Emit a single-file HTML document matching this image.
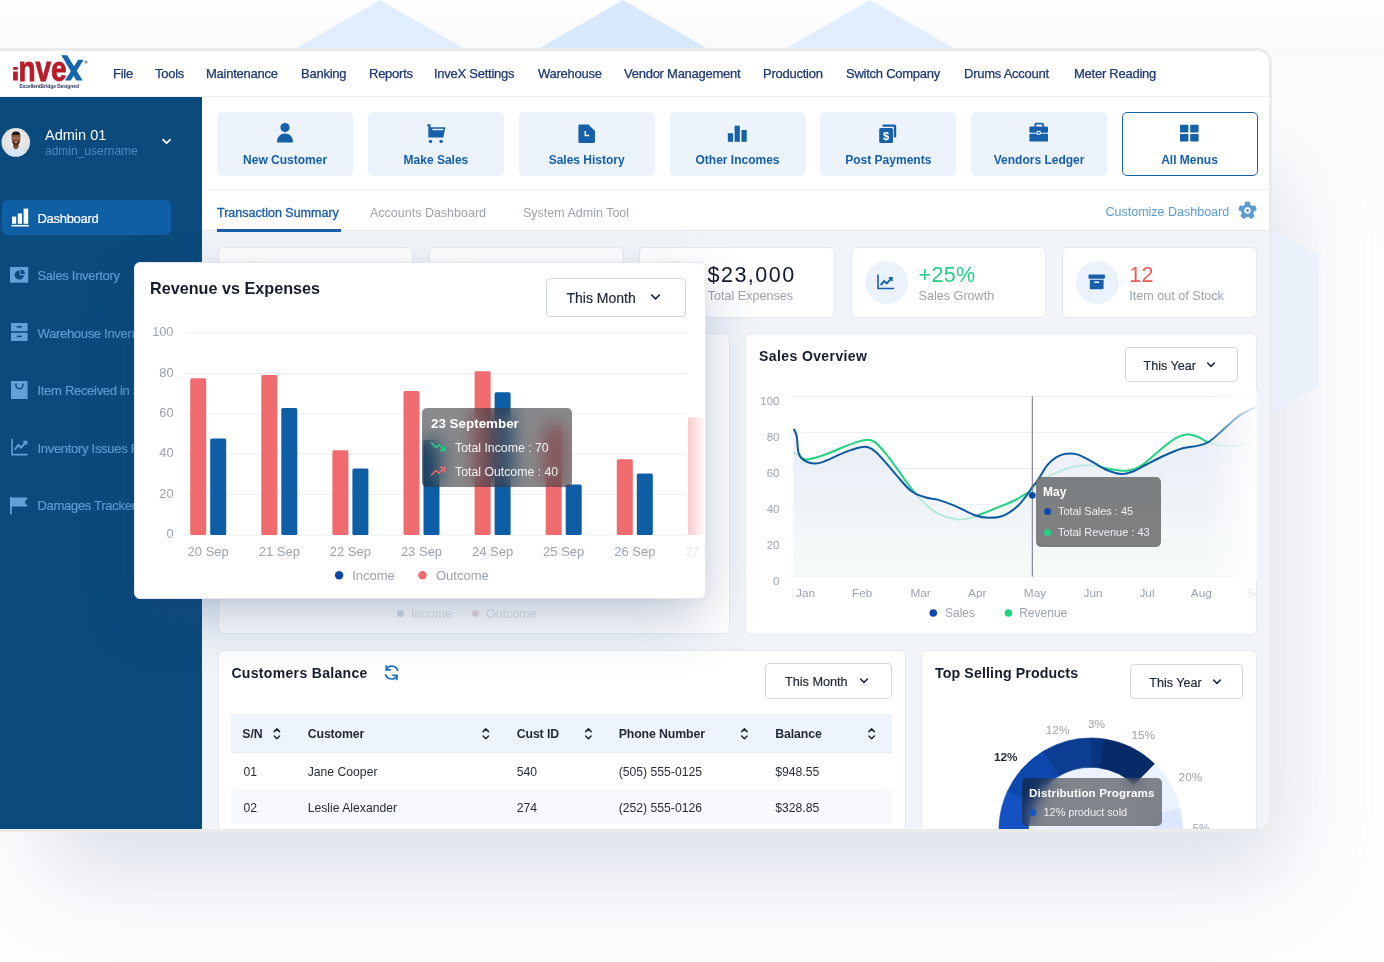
<!DOCTYPE html>
<html><head><meta charset="utf-8">
<style>
*{box-sizing:border-box;margin:0;padding:0}
html,body{width:1384px;height:962px;overflow:hidden;background:#fdfdfe}
body{background:linear-gradient(#fefefe 0,#f9fafb 48px,#fcfcfd 120px,#fdfdfe 300px)}
body{position:relative;font-family:"Liberation Sans",Arial,sans-serif;color:#1f2937}
.a{position:absolute}
#bgdeco{position:absolute;left:0;top:0}
#shadow{position:absolute;left:45px;top:170px;width:1240px;height:705px;background:#b7c1d2;filter:blur(42px);opacity:.47;border-radius:40px}
#frame{position:absolute;left:-3px;top:48px;width:1275px;height:784px;border:3px solid #ebebeb;border-radius:0 15px 15px 0;background:#fff;overflow:hidden}
#pg{position:absolute;left:0;top:-51px;width:1269px;height:880px}
#header{position:absolute;left:0;top:51px;width:1269px;height:46px;background:#fff;border-bottom:1.5px solid #eff0f2}
.nav{position:absolute;top:65.9px;font-size:13px;color:#1c3771;white-space:nowrap;letter-spacing:-.25px;-webkit-text-stroke:.25px #1c3771}
#sidebar{position:absolute;left:0;top:97px;width:202.4px;height:740px;background:#0b4a7c}
.sbt{position:absolute;left:37.5px;font-size:13px;color:#5e9bd4;white-space:nowrap;letter-spacing:-.3px;-webkit-text-stroke:.2px currentColor}
.qa{position:absolute;top:111.9px;width:136px;height:64px;background:#edf3fc;border-radius:5px}
.qal{position:absolute;top:152.6px;width:136px;text-align:center;font-size:12px;font-weight:bold;color:#1560a8;white-space:nowrap}
.tab{top:206.3px;font-size:12.5px;color:#9ea3ab;white-space:nowrap}
.sc{position:absolute;top:246.5px;width:195.5px;height:71px;background:#fff;border:1px solid #e5eaf0;border-radius:6px}
.ic{top:260.8px;width:43px;height:43px;border-radius:50%;background:#ebf2fc}
.sv{top:262.5px;font-size:21.5px;white-space:nowrap;letter-spacing:1.5px}
.sl{top:288.8px;font-size:12.6px;color:#9ca3af;white-space:nowrap}
.card{position:absolute;background:#fff;border:1px solid #e5eaf0;border-radius:6px}
.dd{position:absolute;background:#fff;border:1px solid #d4d9e0;border-radius:4px}
.dd span{position:absolute;font-size:13px;color:#1f2937;white-space:nowrap;-webkit-text-stroke:.2px #1f2937;margin-top:.4px}
.th{top:727.3px;font-size:12.3px;font-weight:bold;color:#1f2937;white-space:nowrap;letter-spacing:-.1px}
.td{font-size:12.2px;color:#272c35;white-space:nowrap}
#main{position:absolute;left:202.4px;top:97px;width:1067px;height:740px;background:#f1f5f9}
</style></head>
<body>
<svg id="bgdeco" width="1384" height="962" viewBox="0 0 1384 962">
  <defs>
    <linearGradient id="hx2" x1="0" y1="0" x2="1" y2="0"><stop offset="0" stop-color="#e2eaf6"/><stop offset="1" stop-color="#eaf1fb"/></linearGradient>
  </defs>
  <polygon points="380,0 465,49 295,49" fill="#e1eefd"/>
  <polygon points="623,0 708,49 538,49" fill="#d8e9fc"/>
  <polygon points="870,0 955,49 785,49" fill="#e0eefd"/>
</svg>
<div id="shadow"></div>
<svg class="a" style="left:1080px;top:180px" width="250" height="290" viewBox="1080 180 250 290"><defs><linearGradient id="hx2" x1="1272" y1="0" x2="1319" y2="0" gradientUnits="userSpaceOnUse"><stop offset="0" stop-color="#e1eaf6"/><stop offset="1" stop-color="#e7eff9"/></linearGradient></defs>
  <polygon points="1206,191 1319,256 1319,386 1206,451 1093,386 1093,256" fill="url(#hx2)"/></svg>
<div id="frame"><div id="pg">
  <div id="header"></div>
  <svg class="a" style="left:0;top:51px" width="100" height="45" viewBox="0 51 100 45">
    <rect x="13.1" y="67" width="4.7" height="2.8" fill="#b81c2a"/>
    <rect x="13.1" y="71.5" width="4.7" height="9" fill="#b81c2a"/>
    <text x="18.4" y="80.6" font-family="Liberation Sans" font-weight="bold" font-size="35.4" textLength="48.3" lengthAdjust="spacingAndGlyphs" fill="#b81c2a" stroke="#b81c2a" stroke-width=".9">nve</text>
    <path d="M61.3 55.3 L67.2 55.3 L82.6 80.5 L76.4 80.5 Z M78.2 59.8 L83.6 59.8 L70.8 80.5 L64.9 80.5 Z" fill="#1565b0"/>
    <circle cx="86" cy="62" r="1.7" fill="#a0a4aa"/>
    <text x="19.4" y="88.4" font-family="Liberation Sans" font-weight="bold" font-size="5.6" textLength="59.5" lengthAdjust="spacingAndGlyphs" fill="#282d5c">ExcellentBridge Designed</text>
  </svg>
  <span class="nav" style="left:113px">File</span>
  <span class="nav" style="left:155px">Tools</span>
  <span class="nav" style="left:206px">Maintenance</span>
  <span class="nav" style="left:301px">Banking</span>
  <span class="nav" style="left:369px">Reports</span>
  <span class="nav" style="left:434px">InveX Settings</span>
  <span class="nav" style="left:538px">Warehouse</span>
  <span class="nav" style="left:624px">Vendor Management</span>
  <span class="nav" style="left:763px">Production</span>
  <span class="nav" style="left:846px">Switch Company</span>
  <span class="nav" style="left:964px">Drums Account</span>
  <span class="nav" style="left:1074px">Meter Reading</span>
  <div id="sidebar"></div>
  <svg class="a" style="left:1px;top:126.6px" width="30" height="30" viewBox="0 0 30 30">
    <defs><clipPath id="avc"><circle cx="14.8" cy="15.3" r="14.3"/></clipPath>
    <radialGradient id="avbg" cx=".5" cy=".45" r=".6"><stop offset="0" stop-color="#f2f2f2"/><stop offset="1" stop-color="#d9d9d9"/></radialGradient></defs>
    <g clip-path="url(#avc)">
      <rect width="30" height="30" fill="url(#avbg)"/>
      <path d="M3.6 31 C4.2 23.4 8.4 20.6 15 20.4 C21.4 20.6 25.6 23.4 26.6 31 Z" fill="#d6e5f6"/>
      <path d="M12.2 17 h5.4 v3.2 l-2.7 2.6 l-2.7 -2.6 Z" fill="#7c4a2e"/>
      <ellipse cx="15" cy="11.6" rx="4.5" ry="5.5" fill="#8d5637"/>
      <path d="M10.6 10.2 C10.2 5.8 12.4 4.6 15 4.6 C17.6 4.6 19.8 5.8 19.4 10.2 L18.8 8.4 C17.4 7.6 12.6 7.6 11.2 8.4 Z" fill="#17110f"/>
      <path d="M11 13.4 C11.6 17.4 13.2 18 15 18 C16.8 18 18.4 17.4 19 13.4 C18 15 16.5 14.4 15 14.4 C13.5 14.4 12 15 11 13.4Z" fill="#3a2418"/>
      <ellipse cx="15" cy="15.3" rx="1.6" ry="1.1" fill="#c88f8c"/>
      <path d="M10.8 10.9 h8.4" stroke="#a9b6c9" stroke-width=".6" opacity=".8"/>
    </g>
  </svg>
  <span class="a" style="left:45px;top:126.6px;font-size:14.5px;color:#fff;white-space:nowrap">Admin 01</span>
  <span class="a" style="left:45px;top:144.4px;font-size:12px;color:#4a88c5;white-space:nowrap">admin_username</span>
  <svg class="a" style="left:161px;top:137px" width="11" height="9" viewBox="0 0 11 9"><path d="M2 2.6 L5.6 6.2 L9.2 2.6" fill="none" stroke="#fff" stroke-width="1.7" stroke-linecap="round" stroke-linejoin="round"/></svg>
  <div class="a" style="left:2px;top:200px;width:169px;height:35.4px;background:#0e5fa4;border-radius:6px"></div>
  <svg class="a" style="left:10.5px;top:208px" width="19" height="19" viewBox="0 0 19 19" fill="#fff">
    <rect x="1" y="8.6" width="4.2" height="7.2"/><rect x="6.8" y="5.4" width="4.2" height="10.4"/><rect x="12.6" y="0.6" width="4.6" height="15.2"/><rect x="0.5" y="16.9" width="17.4" height="1.6"/>
  </svg>
  <span class="a sbt" style="top:211.1px;color:#fff">Dashboard</span>
  <svg class="a" style="left:10.4px;top:267px" width="19" height="16" viewBox="0 0 19 16">
    <rect x="0" y="0" width="18.2" height="15.7" fill="#62a0d8"/>
    <path d="M9.6 3.4 A4.6 4.6 0 1 0 13.9 8.2 L9.6 8.2 Z" fill="#0b4a7c"/><path d="M10.7 2.4 A4.8 4.8 0 0 1 15 6.9 L10.7 6.9Z" fill="#0b4a7c"/>
  </svg>
  <span class="a sbt" style="top:268px">Sales Invertory</span>
  <svg class="a" style="left:11px;top:323px" width="17" height="19" viewBox="0 0 17 19" fill="#62a0d8">
    <rect x="0" y="0" width="16.6" height="8.2"/><rect x="0" y="9.8" width="16.6" height="8.2"/>
    <rect x="5.8" y="3" width="5" height="1.6" fill="#0b4a7c"/><rect x="5.8" y="12.6" width="5" height="1.6" fill="#0b4a7c"/>
  </svg>
  <span class="a sbt" style="top:325.5px">Warehouse Inventory</span>
  <svg class="a" style="left:11px;top:380.8px" width="17" height="19" viewBox="0 0 17 19">
    <rect x="0" y="0" width="16.6" height="18" fill="#62a0d8"/>
    <path d="M5 2.6 v1.6 a3.4 3.4 0 0 0 6.8 0 v-1.6" fill="none" stroke="#0b4a7c" stroke-width="1.5"/>
  </svg>
  <span class="a sbt" style="top:383px">Item Received in Store</span>
  <svg class="a" style="left:11px;top:439px" width="18" height="17" viewBox="0 0 18 17" fill="none" stroke="#62a0d8" stroke-width="1.6">
    <path d="M1 0 V15.6 H16.6"/><path d="M3.8 10.6 L7.4 6 L10 8.6 L14.8 3.2" stroke-width="2"/><path d="M12.2 2.6 H15.4 V5.8" stroke-width="1.8"/>
  </svg>
  <span class="a sbt" style="top:440.5px">Inventory Issues Report</span>
  <svg class="a" style="left:10px;top:496.5px" width="19" height="18" viewBox="0 0 19 18" fill="#62a0d8">
    <rect x="0" y="0" width="1.8" height="17.2"/><path d="M1 0.6 H18 L14.6 5 L18 9.6 H1 Z"/>
  </svg>
  <span class="a sbt" style="top:497.8px">Damages Tracker</span>
  <div id="main"></div>
  <div class="a" style="left:202.4px;top:97px;width:1067px;height:134.2px;background:#fff;border-bottom:1px solid #e6eaef"></div>
  <div class="a" style="left:204px;top:189.3px;width:1065px;height:1.2px;background:#eceef1"></div>
  <!-- quick action cards -->
  <div class="qa" style="left:217.1px"></div><div class="qa" style="left:367.9px"></div><div class="qa" style="left:518.7px"></div>
  <div class="qa" style="left:669.5px"></div><div class="qa" style="left:820.3px"></div><div class="qa" style="left:971.1px"></div>
  <div class="qa" style="left:1121.5px;background:#fff;border:1.3px solid #1a60a9"></div>
  <span class="qal" style="left:217.1px">New Customer</span>
  <span class="qal" style="left:367.9px">Make Sales</span>
  <span class="qal" style="left:518.7px">Sales History</span>
  <span class="qal" style="left:669.5px">Other Incomes</span>
  <span class="qal" style="left:820.3px">Post Payments</span>
  <span class="qal" style="left:971.1px">Vendors Ledger</span>
  <span class="qal" style="left:1121.5px">All Menus</span>
  <svg class="a" style="left:0;top:0" width="1269" height="150" viewBox="0 0 1269 150" fill="#1560a8">
    <!-- person -->
    <circle cx="285" cy="127.6" r="4.6"/><path d="M277 142.4 C277 136.4 280.6 133.6 285 133.6 C289.4 133.6 293 136.4 293 142.4 Z"/>
    <!-- cart -->
    <path d="M427.2 124.3 H430.5 V127.2 H445.3 L443.4 137.6 H428.3 V125.9 H427.2 Z"/>
    <rect x="432.4" y="128.8" width="11" height="1.4" fill="#edf3fc"/>
    <circle cx="430.5" cy="141.4" r="1.7"/><circle cx="441.1" cy="141.4" r="1.7"/>
    <!-- document -->
    <path d="M578.4 125.8 a1.4 1.4 0 0 1 1.4 -1.4 h8.6 l6.6 6.6 v10.6 a1.4 1.4 0 0 1 -1.4 1.4 h-13.8 a1.4 1.4 0 0 1 -1.4 -1.4 Z"/>
    <path d="M585.3 131 v4.6 h3.8" fill="none" stroke="#fff" stroke-width="1.5"/>
    <!-- bars -->
    <rect x="727.8" y="133.2" width="5.2" height="8.6"/><rect x="734.6" y="125.7" width="5.2" height="16.1"/><rect x="741.5" y="130" width="5.2" height="11.8"/>
    <!-- dollar doc -->
    <path d="M882.6 124.4 h11.8 a1.8 1.8 0 0 1 1.8 1.8 v11.4 h-2.4 v-10.8 h-11.2 Z"/>
    <rect x="879.2" y="128" width="13.8" height="15" rx="1.6"/>
    <text x="886.1" y="140.4" font-family="Liberation Sans" font-weight="bold" font-size="11" fill="#fff" text-anchor="middle">$</text>
    <!-- briefcase -->
    <path d="M1035.3 126.8 v-2.2 a1 1 0 0 1 1 -1 h5.8 a1 1 0 0 1 1 1 v2.2" fill="none" stroke="#1560a8" stroke-width="1.8"/>
    <rect x="1029.4" y="126.6" width="18.6" height="6.2" rx="1.2"/><rect x="1029.4" y="133.8" width="18.6" height="7.8" rx="1.2"/>
    <rect x="1036.8" y="130.9" width="3.8" height="3.8" fill="#fff"/><rect x="1037.7" y="131.8" width="2" height="2"/>
    <!-- grid -->
    <rect x="1180" y="124.8" width="8.4" height="7.6" rx=".8"/><rect x="1190.2" y="124.8" width="8.4" height="7.6" rx=".8"/>
    <rect x="1180" y="134" width="8.4" height="7.6" rx=".8"/><rect x="1190.2" y="134" width="8.4" height="7.6" rx=".8"/>
  </svg>
  <!-- tabs -->
  <span class="a tab" style="left:217px;color:#1a5fa8;-webkit-text-stroke:.35px #1a5fa8">Transaction Summary</span>
  <div class="a" style="left:217px;top:229.4px;width:124px;height:2.2px;background:#1a5fa8"></div>
  <span class="a tab" style="left:370px">Accounts Dashboard</span>
  <span class="a tab" style="left:523px">System Admin Tool</span>
  <span class="a" style="left:1105.5px;top:204.6px;font-size:12.5px;color:#5a9bd4;white-space:nowrap">Customize Dashboard</span>
  <svg class="a" style="left:1237.5px;top:200.7px" width="19" height="19" viewBox="-9.5 -9.5 19 19">
    <g fill="#5a9bd4"><circle r="6.4"/><rect x="-2.75" y="-9" width="5.5" height="6" rx="1.6" transform="rotate(0)"/><rect x="-2.75" y="-9" width="5.5" height="6" rx="1.6" transform="rotate(72)"/><rect x="-2.75" y="-9" width="5.5" height="6" rx="1.6" transform="rotate(144)"/><rect x="-2.75" y="-9" width="5.5" height="6" rx="1.6" transform="rotate(216)"/><rect x="-2.75" y="-9" width="5.5" height="6" rx="1.6" transform="rotate(288)"/></g>
    <circle r="3.2" fill="#fff"/><circle r="1.4" fill="#5a9bd4"/>
  </svg>
  <!-- stat cards -->
  <div class="sc" style="left:217.7px"></div><div class="sc" style="left:428.7px"></div><div class="sc" style="left:639.4px"></div>
  <div class="sc" style="left:850.6px"></div><div class="sc" style="left:1061.5px"></div>
  <div class="a ic" style="left:231.7px"></div><div class="a ic" style="left:442.7px"></div><div class="a ic" style="left:653.4px"></div>
  <div class="a ic" style="left:864.6px"></div><div class="a ic" style="left:1075.5px"></div>
  <span class="a sv" style="left:707.5px;color:#111827">$23,000</span>
  <span class="a sl" style="left:707.7px">Total Expenses</span>
  <span class="a sv" style="left:918.6px;color:#22cf83;letter-spacing:.3px">+25%</span>
  <span class="a sl" style="left:918.6px">Sales Growth</span>
  <span class="a sv" style="left:1129.3px;color:#ef5b5b;letter-spacing:.3px">12</span>
  <span class="a sl" style="left:1129.3px">Item out of Stock</span>
  <svg class="a" style="left:876px;top:273px" width="20" height="18" viewBox="0 0 20 18" fill="none" stroke="#1560a8">
    <path d="M2 1.5 V15.5 H18" stroke-width="1.6"/><path d="M4.6 12 L8.2 8 L10.8 10.4 L15.4 5.4" stroke-width="1.9"/><path d="M12.8 4.9 H15.9 V8" stroke-width="1.6"/>
  </svg>
  <svg class="a" style="left:1087.5px;top:274px" width="18" height="16" viewBox="0 0 18 16" fill="#1560a8">
    <rect x="0.5" y="0.5" width="16.4" height="4.2" rx="1"/><path d="M1.8 5.8 h13.8 v8.2 a1.2 1.2 0 0 1 -1.2 1.2 h-11.4 a1.2 1.2 0 0 1 -1.2 -1.2 Z"/>
    <rect x="6.2" y="7.6" width="5" height="1.5" rx=".7" fill="#fff"/>
  </svg>
  <!-- lower cards -->
  <div class="card" style="left:218px;top:333px;width:511.5px;height:301px"></div>
  <div class="card" style="left:745px;top:333px;width:511.5px;height:301.5px"></div>
  <div class="card" style="left:218px;top:650px;width:688px;height:240px"></div>
  <div class="card" style="left:921px;top:650px;width:335.6px;height:240px"></div>
  <!-- Sales overview -->
  <span class="a" style="left:759px;top:347.5px;font-size:14px;font-weight:bold;color:#161e2e;white-space:nowrap;letter-spacing:.4px">Sales Overview</span>
  <div class="dd" style="left:1125px;top:347.2px;width:113px;height:35.3px"><span style="left:17.5px;top:10.3px;font-size:12.6px">This Year</span>
   <svg class="a" style="left:80px;top:13px" width="10" height="8" viewBox="0 0 10 8"><path d="M1.6 2 L5 5.4 L8.4 2" fill="none" stroke="#1f2937" stroke-width="1.6" stroke-linecap="round" stroke-linejoin="round"/></svg></div>
  <svg class="a" style="left:745px;top:380px" width="512" height="250" viewBox="745 380 512 250">
    <defs>
      <linearGradient id="sfill" x1="0" y1="430" x2="0" y2="576.6" gradientUnits="userSpaceOnUse"><stop offset="0" stop-color="#e6eaf7" stop-opacity=".85"/><stop offset=".6" stop-color="#f1f3fa" stop-opacity=".7"/><stop offset="1" stop-color="#fbfcfe" stop-opacity=".5"/></linearGradient>
      <linearGradient id="rfade" x1="1205" y1="0" x2="1257" y2="0" gradientUnits="userSpaceOnUse"><stop offset="0" stop-color="#fff" stop-opacity="0"/><stop offset="1" stop-color="#fff" stop-opacity=".92"/></linearGradient>
    </defs>
    <g stroke="#eceef1" stroke-width="1">
      <line x1="790" y1="396.4" x2="1257" y2="396.4"/><line x1="790" y1="432.4" x2="1257" y2="432.4"/><line x1="790" y1="468.5" x2="1257" y2="468.5"/>
      <line x1="790" y1="504.4" x2="1257" y2="504.4"/><line x1="790" y1="540.5" x2="1257" y2="540.5"/><line x1="790" y1="576.6" x2="1257" y2="576.6"/>
    </g>
    <path d="M793.7 452.4 C795.3 453.4 800.6 457.6 803.1 458.7 C805.6 459.8 805.5 459.6 808.5 459.2 C811.5 458.8 816.0 457.7 821.1 456.0 C826.2 454.3 833.2 451.2 839.2 448.8 C845.2 446.4 852.5 443.4 857.3 441.9 C862.1 440.4 865.1 439.6 868.1 439.7 C871.1 439.8 872.3 440.0 875.3 442.4 C878.3 444.8 882.6 449.8 886.2 454.2 C889.8 458.6 892.8 462.9 897.0 468.6 C901.2 474.3 906.6 482.5 911.4 488.5 C916.2 494.5 921.4 500.6 925.9 504.8 C930.4 509.0 933.4 511.4 938.5 513.8 C943.6 516.2 951.5 518.5 956.6 519.2 C961.7 520.0 965.1 519.2 969.3 518.3 C973.5 517.4 977.4 515.5 981.9 513.8 C986.4 512.1 991.8 509.8 996.3 508.0 C1000.8 506.2 1005.1 504.8 1009.0 503.0 C1012.9 501.2 1016.2 499.6 1019.8 497.5 C1023.4 495.4 1027.1 493.6 1030.8 490.7 C1034.5 487.8 1037.5 483.0 1041.7 480.0 C1045.9 477.0 1050.7 475.0 1056.1 472.7 C1061.5 470.4 1068.2 467.6 1074.2 466.4 C1080.2 465.2 1086.3 464.9 1092.3 465.4 C1098.3 465.8 1104.3 468.2 1110.3 469.1 C1116.3 470.0 1123.0 471.3 1128.4 470.5 C1133.8 469.7 1137.4 468.1 1142.8 464.5 C1148.2 460.9 1155.5 453.6 1160.9 449.2 C1166.3 444.8 1171.1 440.9 1175.3 438.4 C1179.5 435.9 1182.6 434.7 1186.2 434.4 C1189.8 434.1 1193.4 435.2 1197.0 436.5 C1200.6 437.8 1204.3 440.6 1207.9 442.0 C1211.5 443.4 1214.8 444.5 1218.7 445.2 C1222.6 445.9 1227.4 446.2 1231.3 446.1 C1235.2 446.0 1238.3 445.4 1242.2 444.7 C1246.1 444.0 1251.5 442.7 1254.8 442.0 C1258.1 441.3 1260.8 440.8 1262.0 440.5 L1262 576.6 L793.7 576.6 Z" fill="#e9f8ee" fill-opacity=".7"/>
    <path d="M793.7 452.4 C795.3 453.4 800.6 457.6 803.1 458.7 C805.6 459.8 805.5 459.6 808.5 459.2 C811.5 458.8 816.0 457.7 821.1 456.0 C826.2 454.3 833.2 451.2 839.2 448.8 C845.2 446.4 852.5 443.4 857.3 441.9 C862.1 440.4 865.1 439.6 868.1 439.7 C871.1 439.8 872.3 440.0 875.3 442.4 C878.3 444.8 882.6 449.8 886.2 454.2 C889.8 458.6 892.8 462.9 897.0 468.6 C901.2 474.3 906.6 482.5 911.4 488.5 C916.2 494.5 921.4 500.6 925.9 504.8 C930.4 509.0 933.4 511.4 938.5 513.8 C943.6 516.2 951.5 518.5 956.6 519.2 C961.7 520.0 965.1 519.2 969.3 518.3 C973.5 517.4 977.4 515.5 981.9 513.8 C986.4 512.1 991.8 509.8 996.3 508.0 C1000.8 506.2 1005.1 504.8 1009.0 503.0 C1012.9 501.2 1016.2 499.6 1019.8 497.5 C1023.4 495.4 1027.1 493.6 1030.8 490.7 C1034.5 487.8 1037.5 483.0 1041.7 480.0 C1045.9 477.0 1050.7 475.0 1056.1 472.7 C1061.5 470.4 1068.2 467.6 1074.2 466.4 C1080.2 465.2 1086.3 464.9 1092.3 465.4 C1098.3 465.8 1104.3 468.2 1110.3 469.1 C1116.3 470.0 1123.0 471.3 1128.4 470.5 C1133.8 469.7 1137.4 468.1 1142.8 464.5 C1148.2 460.9 1155.5 453.6 1160.9 449.2 C1166.3 444.8 1171.1 440.9 1175.3 438.4 C1179.5 435.9 1182.6 434.7 1186.2 434.4 C1189.8 434.1 1193.4 435.2 1197.0 436.5 C1200.6 437.8 1204.3 440.6 1207.9 442.0 C1211.5 443.4 1214.8 444.5 1218.7 445.2 C1222.6 445.9 1227.4 446.2 1231.3 446.1 C1235.2 446.0 1238.3 445.4 1242.2 444.7 C1246.1 444.0 1251.5 442.7 1254.8 442.0 C1258.1 441.3 1260.8 440.8 1262.0 440.5" fill="none" stroke="#22d384" stroke-width="2"/>
    <path d="M793.7 428.9 C794.2 430.1 795.9 432.2 796.7 436.1 C797.5 440.0 797.4 448.5 798.5 452.4 C799.6 456.3 800.4 457.7 803.1 459.6 C805.8 461.5 810.9 463.5 814.8 463.6 C818.7 463.8 821.5 462.4 826.5 460.5 C831.5 458.6 838.9 454.6 844.6 452.4 C850.3 450.2 857.0 448.1 860.9 447.3 C864.8 446.5 865.7 446.6 868.1 447.3 C870.5 448.0 872.3 448.9 875.3 451.5 C878.3 454.1 882.6 459.1 886.2 463.2 C889.8 467.3 892.8 471.2 897.0 475.9 C901.2 480.6 906.6 487.6 911.4 491.2 C916.2 494.8 921.4 496.1 925.9 497.5 C930.4 498.9 933.4 498.4 938.5 499.9 C943.6 501.4 950.6 504.1 956.6 506.6 C962.6 509.2 969.3 513.3 974.7 515.2 C980.1 517.1 984.3 517.7 989.1 517.8 C993.9 517.9 998.8 517.6 1003.6 515.6 C1008.4 513.6 1014.1 509.2 1018.0 505.7 C1021.9 502.2 1024.6 497.9 1027.0 494.8 C1029.4 491.7 1030.5 489.6 1032.3 487.1 C1034.1 484.6 1035.5 483.6 1038.0 480.0 C1040.5 476.4 1044.1 469.2 1047.1 465.4 C1050.1 461.6 1052.9 459.2 1056.1 457.3 C1059.3 455.4 1062.5 454.1 1066.1 453.7 C1069.7 453.2 1073.4 453.2 1077.8 454.6 C1082.2 456.0 1087.5 459.2 1092.3 461.8 C1097.1 464.4 1101.9 468.0 1106.7 470.0 C1111.5 472.0 1117.0 473.7 1121.2 474.0 C1125.4 474.3 1127.8 473.4 1132.0 471.8 C1136.2 470.2 1141.0 467.2 1146.4 464.5 C1151.8 461.8 1158.5 458.2 1164.5 455.5 C1170.5 452.8 1177.2 449.9 1182.6 448.3 C1188.0 446.7 1192.8 446.9 1197.0 445.9 C1201.2 444.9 1204.3 444.3 1207.9 442.3 C1211.5 440.3 1215.1 436.9 1218.7 433.8 C1222.3 430.7 1225.9 427.0 1229.5 423.9 C1233.1 420.8 1236.2 417.6 1240.4 414.9 C1244.6 412.2 1251.2 409.2 1254.8 407.6 C1258.4 406.0 1260.8 405.4 1262.0 405.0 L1262 576.6 L793.7 576.6 Z" fill="url(#sfill)"/>
    <path d="M793.7 428.9 C794.2 430.1 795.9 432.2 796.7 436.1 C797.5 440.0 797.4 448.5 798.5 452.4 C799.6 456.3 800.4 457.7 803.1 459.6 C805.8 461.5 810.9 463.5 814.8 463.6 C818.7 463.8 821.5 462.4 826.5 460.5 C831.5 458.6 838.9 454.6 844.6 452.4 C850.3 450.2 857.0 448.1 860.9 447.3 C864.8 446.5 865.7 446.6 868.1 447.3 C870.5 448.0 872.3 448.9 875.3 451.5 C878.3 454.1 882.6 459.1 886.2 463.2 C889.8 467.3 892.8 471.2 897.0 475.9 C901.2 480.6 906.6 487.6 911.4 491.2 C916.2 494.8 921.4 496.1 925.9 497.5 C930.4 498.9 933.4 498.4 938.5 499.9 C943.6 501.4 950.6 504.1 956.6 506.6 C962.6 509.2 969.3 513.3 974.7 515.2 C980.1 517.1 984.3 517.7 989.1 517.8 C993.9 517.9 998.8 517.6 1003.6 515.6 C1008.4 513.6 1014.1 509.2 1018.0 505.7 C1021.9 502.2 1024.6 497.9 1027.0 494.8 C1029.4 491.7 1030.5 489.6 1032.3 487.1 C1034.1 484.6 1035.5 483.6 1038.0 480.0 C1040.5 476.4 1044.1 469.2 1047.1 465.4 C1050.1 461.6 1052.9 459.2 1056.1 457.3 C1059.3 455.4 1062.5 454.1 1066.1 453.7 C1069.7 453.2 1073.4 453.2 1077.8 454.6 C1082.2 456.0 1087.5 459.2 1092.3 461.8 C1097.1 464.4 1101.9 468.0 1106.7 470.0 C1111.5 472.0 1117.0 473.7 1121.2 474.0 C1125.4 474.3 1127.8 473.4 1132.0 471.8 C1136.2 470.2 1141.0 467.2 1146.4 464.5 C1151.8 461.8 1158.5 458.2 1164.5 455.5 C1170.5 452.8 1177.2 449.9 1182.6 448.3 C1188.0 446.7 1192.8 446.9 1197.0 445.9 C1201.2 444.9 1204.3 444.3 1207.9 442.3 C1211.5 440.3 1215.1 436.9 1218.7 433.8 C1222.3 430.7 1225.9 427.0 1229.5 423.9 C1233.1 420.8 1236.2 417.6 1240.4 414.9 C1244.6 412.2 1251.2 409.2 1254.8 407.6 C1258.4 406.0 1260.8 405.4 1262.0 405.0" fill="none" stroke="#0d5aa3" stroke-width="2"/>
    <rect x="1205" y="390" width="52" height="190" fill="url(#rfade)"/>
    <line x1="1032.3" y1="396.4" x2="1032.3" y2="576.6" stroke="#71757c" stroke-width="1"/>
    <circle cx="1032.3" cy="495.3" r="3.4" fill="#0d47a8"/>
    <g font-family="Liberation Sans" font-size="11.5" fill="#9ca3af" text-anchor="end">
      <text x="779.5" y="404.8">100</text><text x="779.5" y="440.8">80</text><text x="779.5" y="476.9">60</text>
      <text x="779.5" y="512.8">40</text><text x="779.5" y="548.9">20</text><text x="779.5" y="585">0</text>
    </g>
    <g font-family="Liberation Sans" font-size="11.8" fill="#9ca3af" text-anchor="middle">
      <text x="805.5" y="596.6">Jan</text><text x="862.1" y="596.6">Feb</text><text x="920.6" y="596.6">Mar</text><text x="977.2" y="596.6">Apr</text>
      <text x="1035" y="596.6">May</text><text x="1093" y="596.6">Jun</text><text x="1147" y="596.6">Jul</text><text x="1201.3" y="596.6">Aug</text>
      <text x="1257" y="596.6" fill="#e5e7eb">Sep</text>
    </g>
    <circle cx="933.3" cy="613" r="3.8" fill="#0d47a8"/>
    <circle cx="1008.4" cy="613" r="3.8" fill="#22d384"/>
    <g font-family="Liberation Sans" font-size="12" fill="#9ca3af"><text x="945" y="617.3">Sales</text><text x="1019.2" y="617.3">Revenue</text></g>
  </svg>
  <div class="a" style="left:1036px;top:476.7px;width:124.6px;height:70px;background:rgba(108,110,112,.88);border-radius:5px"></div>
  <span class="a" style="left:1043px;top:485px;font-size:12px;font-weight:bold;color:#fff">May</span>
  <div class="a" style="left:1043.5px;top:508px;width:7px;height:7px;border-radius:50%;background:#0d47a8"></div>
  <span class="a" style="left:1058px;top:505px;font-size:11px;color:#eef0f2;white-space:nowrap">Total Sales : 45</span>
  <div class="a" style="left:1043.5px;top:529px;width:7px;height:7px;border-radius:50%;background:#22d384"></div>
  <span class="a" style="left:1058px;top:526px;font-size:11px;color:#eef0f2;white-space:nowrap">Total Revenue : 43</span>

  <!-- Customers balance -->
  <span class="a" style="left:231.4px;top:664.5px;font-size:14px;font-weight:bold;color:#161e2e;white-space:nowrap;letter-spacing:.33px">Customers Balance</span>
  <svg class="a" style="left:383px;top:664px" width="18" height="18" viewBox="0 0 18 18" fill="none" stroke="#1a6fc0" stroke-width="1.7" stroke-linecap="round" stroke-linejoin="round">
    <path d="M14.6 6.4 A6.2 6.2 0 0 0 3.2 5.6"/><path d="M3.3 1.8 V5.8 H7.2"/>
    <path d="M2.6 10.8 A6.2 6.2 0 0 0 14 11.6"/><path d="M13.9 15.4 V11.4 H10"/>
  </svg>
  <div class="dd" style="left:765.4px;top:663.4px;width:126.2px;height:35.4px"><span style="left:18.5px;top:10.6px;font-size:12.7px">This Month</span>
   <svg class="a" style="left:92.5px;top:13px" width="10" height="8" viewBox="0 0 10 8"><path d="M1.6 2 L5 5.4 L8.4 2" fill="none" stroke="#1f2937" stroke-width="1.6" stroke-linecap="round" stroke-linejoin="round"/></svg></div>
  <div class="a" style="left:231.2px;top:713.6px;width:660.4px;height:39.3px;background:#edf4fd;border-bottom:1px solid #e4ebf4"></div>
  <div class="a" style="left:231.2px;top:788.7px;width:660.4px;height:35.4px;background:#f7f9fd"></div>
  <span class="a th" style="left:242.3px">S/N</span>
  <span class="a th" style="left:307.7px">Customer</span>
  <span class="a th" style="left:516.7px">Cust ID</span>
  <span class="a th" style="left:618.7px">Phone Number</span>
  <span class="a th" style="left:775.2px">Balance</span>
  <svg class="a" style="left:0;top:720px" width="900" height="30" viewBox="0 720 900 30" fill="none" stroke="#1f2937" stroke-width="1.5" stroke-linecap="round" stroke-linejoin="round">
    <path d="M274.2 731.6 L276.9 728.9 L279.6 731.6 M274.2 736 L276.9 738.7 L279.6 736"/>
    <path d="M483.1 731.6 L485.8 728.9 L488.5 731.6 M483.1 736 L485.8 738.7 L488.5 736"/>
    <path d="M585.7 731.6 L588.4 728.9 L591.1 731.6 M585.7 736 L588.4 738.7 L591.1 736"/>
    <path d="M741.7 731.6 L744.4 728.9 L747.1 731.6 M741.7 736 L744.4 738.7 L747.1 736"/>
    <path d="M868.9 731.6 L871.6 728.9 L874.3 731.6 M868.9 736 L871.6 738.7 L874.3 736"/>
  </svg>
  <span class="a td" style="left:243.4px;top:765.2px">01</span>
  <span class="a td" style="left:307.7px;top:765.2px">Jane Cooper</span>
  <span class="a td" style="left:516.7px;top:765.2px">540</span>
  <span class="a td" style="left:618.7px;top:765.2px">(505) 555-0125</span>
  <span class="a td" style="left:775.2px;top:765.2px">$948.55</span>
  <span class="a td" style="left:243.4px;top:801px">02</span>
  <span class="a td" style="left:307.7px;top:801px">Leslie Alexander</span>
  <span class="a td" style="left:516.7px;top:801px">274</span>
  <span class="a td" style="left:618.7px;top:801px">(252) 555-0126</span>
  <span class="a td" style="left:775.2px;top:801px">$328.85</span>
  <!-- Top selling -->
  <span class="a" style="left:935px;top:664.5px;font-size:14.2px;font-weight:bold;color:#161e2e;white-space:nowrap;letter-spacing:.12px">Top Selling Products</span>
  <div class="dd" style="left:1130px;top:663.6px;width:112.7px;height:35.3px"><span style="left:18.3px;top:10.6px;font-size:12.6px">This Year</span>
   <svg class="a" style="left:80.8px;top:13px" width="10" height="8" viewBox="0 0 10 8"><path d="M1.6 2 L5 5.4 L8.4 2" fill="none" stroke="#1f2937" stroke-width="1.6" stroke-linecap="round" stroke-linejoin="round"/></svg></div>
  <svg class="a" style="left:921px;top:700px" width="335" height="140" viewBox="921 700 335 140">
    <circle cx="1090.8" cy="829.8" r="62.6" fill="#ecf3fe"/>
    <path d="M1044.90 909.30 A91.8 91.8 0 0 1 1007.40 791.44 L1034.02 803.68 A62.5 62.5 0 0 0 1059.55 883.93 Z" fill="#1451c2" stroke="#1451c2" stroke-width=".7"/>
    <path d="M1007.40 791.44 A91.8 91.8 0 0 1 1043.25 751.28 L1058.42 776.34 A62.5 62.5 0 0 0 1034.02 803.68 Z" fill="#0c48ad" stroke="#0c48ad" stroke-width=".7"/>
    <path d="M1043.25 751.28 A91.8 91.8 0 0 1 1090.80 738.00 L1090.80 767.30 A62.5 62.5 0 0 0 1058.42 776.34 Z" fill="#0b3d93" stroke="#0b3d93" stroke-width=".7"/>
    <path d="M1090.80 738.00 A91.8 91.8 0 0 1 1103.73 738.92 L1099.61 767.92 A62.5 62.5 0 0 0 1090.80 767.30 Z" fill="#08357f" stroke="#08357f" stroke-width=".7"/>
    <path d="M1103.73 738.92 A91.8 91.8 0 0 1 1154.91 764.10 L1134.45 785.07 A62.5 62.5 0 0 0 1099.61 767.92 Z" fill="#072a68" stroke="#072a68" stroke-width=".7"/>
    <path d="M1154.91 764.10 A91.8 91.8 0 0 1 1180.17 808.84 L1151.65 815.53 A62.5 62.5 0 0 0 1134.45 785.07 Z" fill="#eaf2fe" stroke="#eaf2fe" stroke-width=".7"/>
    <path d="M1180.17 808.84 A91.8 91.8 0 0 1 1136.70 909.30 L1122.05 883.93 A62.5 62.5 0 0 0 1151.65 815.53 Z" fill="#dae7fc" stroke="#dae7fc" stroke-width=".7"/>
    <g font-family="Liberation Sans" font-size="11.8" fill="#9ca3af">
      <text x="1045.8" y="733.8">12%</text><text x="1088" y="728.2">3%</text><text x="1131.4" y="739">15%</text>
      <text x="1178.6" y="781">20%</text><text x="1192.4" y="831.5">5%</text>
    </g>
    <text x="994" y="760.6" font-family="Liberation Sans" font-size="11.8" font-weight="bold" fill="#1f2937">12%</text>
  </svg>
  <div class="a" style="left:1022px;top:777.6px;width:139.5px;height:48.6px;background:rgba(20,22,26,.5);border-radius:5px;backdrop-filter:blur(7px);-webkit-backdrop-filter:blur(7px)"></div>
  <span class="a" style="left:1029px;top:786px;font-size:11.6px;font-weight:bold;color:#fff;white-space:nowrap;letter-spacing:.15px">Distribution Programs</span>
  <div class="a" style="left:1029px;top:809px;width:7px;height:7px;border-radius:50%;background:#1451c2"></div>
  <span class="a" style="left:1043.6px;top:806px;font-size:11px;color:#eef0f2;white-space:nowrap;letter-spacing:-.1px">12% product sold</span>

  <!-- hidden card faint legend -->
  <div class="a" style="left:397px;top:610px;width:7px;height:7px;border-radius:50%;background:#d3dbe8"></div>
  <span class="a" style="left:411px;top:606.5px;font-size:12.5px;color:#dde2ea">Income</span>
  <div class="a" style="left:472px;top:610px;width:7px;height:7px;border-radius:50%;background:#ecdade"></div>
  <span class="a" style="left:486px;top:606.5px;font-size:12.5px;color:#dde2ea">Outcome</span>
  <!-- Revenue popup -->
  <div class="a" style="left:134px;top:262px;width:572px;height:336.5px;background:#fff;border:1px solid #e4e8ee;border-radius:6px;box-shadow:0 22px 56px -4px rgba(35,65,115,.30),0 2px 10px rgba(30,55,95,.05)"></div>
  <span class="a" style="left:150px;top:279px;font-size:16.2px;font-weight:bold;color:#161e2e;white-space:nowrap">Revenue vs Expenses</span>
  <div class="dd" style="left:546px;top:278.4px;width:139.5px;height:39px"><span style="left:19.5px;top:10.5px;font-size:14px">This Month</span>
   <svg class="a" style="left:103px;top:14px" width="11" height="9" viewBox="0 0 11 9"><path d="M1.8 2.2 L5.5 5.9 L9.2 2.2" fill="none" stroke="#1f2937" stroke-width="1.7" stroke-linecap="round" stroke-linejoin="round"/></svg></div>
  <svg class="a" style="left:134px;top:320px" width="572" height="270" viewBox="134 320 572 270">
    <defs><linearGradient id="fadeRed" x1="0" y1="0" x2="1" y2="0"><stop offset="0" stop-color="#f06b6e" stop-opacity=".35"/><stop offset="1" stop-color="#f06b6e" stop-opacity=".05"/></linearGradient></defs>
    <g stroke="#eceef1" stroke-width="1">
      <line x1="185" y1="333.1" x2="686" y2="333.1"/><line x1="185" y1="373.5" x2="686" y2="373.5"/><line x1="185" y1="414" x2="686" y2="414"/>
      <line x1="185" y1="454.1" x2="686" y2="454.1"/><line x1="185" y1="494.6" x2="686" y2="494.6"/><line x1="185" y1="535" x2="686" y2="535"/>
    </g>
    <g font-family="Liberation Sans" font-size="12.8" fill="#9ca3af" text-anchor="end">
      <text x="173.5" y="336.2">100</text><text x="173.5" y="376.6">80</text><text x="173.5" y="417.1">60</text>
      <text x="173.5" y="457.2">40</text><text x="173.5" y="497.7">20</text><text x="173.5" y="538.1">0</text>
    </g>
    <rect x="190.2" y="378.2" width="16" height="156.8" rx="1.5" fill="#f06b6e"/>
    <rect x="210.2" y="438.4" width="16" height="96.6" rx="1.5" fill="#0d5ea5"/>
    <rect x="261.3" y="375.0" width="16" height="160.0" rx="1.5" fill="#f06b6e"/>
    <rect x="281.3" y="407.9" width="16" height="127.1" rx="1.5" fill="#0d5ea5"/>
    <rect x="332.4" y="450.3" width="16" height="84.7" rx="1.5" fill="#f06b6e"/>
    <rect x="352.4" y="468.4" width="16" height="66.6" rx="1.5" fill="#0d5ea5"/>
    <rect x="403.5" y="391.0" width="16" height="144.0" rx="1.5" fill="#f06b6e"/>
    <rect x="423.5" y="440.0" width="16" height="95.0" rx="1.5" fill="#0d5ea5"/>
    <rect x="474.6" y="371.2" width="16" height="163.8" rx="1.5" fill="#f06b6e"/>
    <rect x="494.6" y="392.3" width="16" height="142.7" rx="1.5" fill="#0d5ea5"/>
    <rect x="545.7" y="425.0" width="16" height="110.0" rx="1.5" fill="#f06b6e"/>
    <rect x="565.7" y="484.6" width="16" height="50.4" rx="1.5" fill="#0d5ea5"/>
    <rect x="616.8" y="459.2" width="16" height="75.8" rx="1.5" fill="#f06b6e"/>
    <rect x="636.8" y="473.5" width="16" height="61.5" rx="1.5" fill="#0d5ea5"/>
    <rect x="687.9" y="417.3" width="16" height="117.7" rx="1.5" fill="url(#fadeRed)"/>
    <g font-family="Liberation Sans" font-size="13" fill="#9ca3af" text-anchor="middle"><text x="208.2" y="555.7">20 Sep</text><text x="279.3" y="555.7">21 Sep</text><text x="350.4" y="555.7">22 Sep</text><text x="421.5" y="555.7">23 Sep</text><text x="492.6" y="555.7">24 Sep</text><text x="563.7" y="555.7">25 Sep</text><text x="634.8" y="555.7">26 Sep</text><text x="705.9" y="555.7" fill="#e8eaee">27 Sep</text></g>
    <circle cx="339.1" cy="575.2" r="4.2" fill="#0d47a8"/><circle cx="422.5" cy="575.2" r="4.2" fill="#f06b6e"/>
    <g font-family="Liberation Sans" font-size="13" fill="#9ca3af"><text x="352.2" y="579.8">Income</text><text x="436" y="579.8">Outcome</text></g>
  </svg>
  <div class="a" style="left:422.3px;top:408px;width:150px;height:79.3px;background:rgba(20,22,26,.5);border-radius:5px;backdrop-filter:blur(10px);-webkit-backdrop-filter:blur(10px)"></div>
  <span class="a" style="left:431px;top:416px;font-size:13.4px;font-weight:bold;color:#fff;white-space:nowrap">23 September</span>
  <svg class="a" style="left:430px;top:441px" width="17" height="12" viewBox="0 0 17 12" fill="none" stroke="#22d384" stroke-width="1.5" stroke-linecap="round" stroke-linejoin="round"><path d="M1.5 2 L6 6.5 L9 3.8 L14.5 9.5"/><path d="M10.5 9.6 H14.6 V5.6"/></svg>
  <span class="a" style="left:455px;top:441px;font-size:12.3px;color:#f1f2f4;white-space:nowrap">Total Income : 70</span>
  <svg class="a" style="left:430px;top:465px" width="17" height="12" viewBox="0 0 17 12" fill="none" stroke="#f06b6e" stroke-width="1.5" stroke-linecap="round" stroke-linejoin="round"><path d="M1.5 10 L6 5.5 L9 8.2 L14.5 2.5"/><path d="M10.5 2.4 H14.6 V6.4"/></svg>
  <span class="a" style="left:455px;top:465px;font-size:12.3px;color:#f1f2f4;white-space:nowrap">Total Outcome : 40</span>
</div></div>
</body></html>
